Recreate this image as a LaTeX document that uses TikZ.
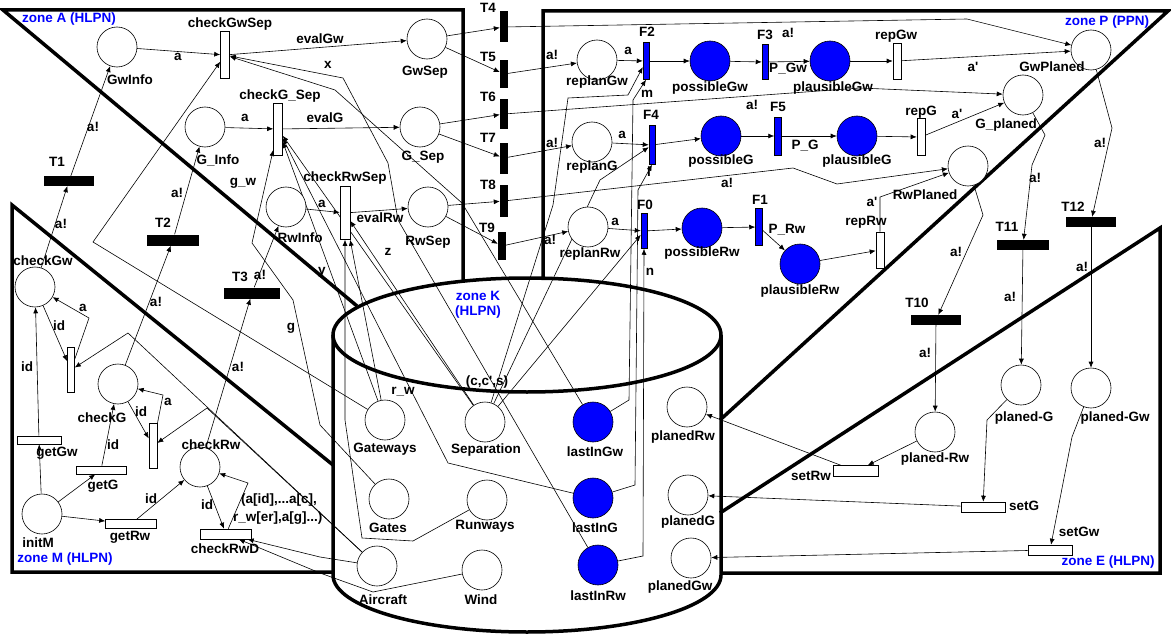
\documentclass[tikz,border=0pt]{standalone}
\usepackage{fontspec}
\setmainfont{Liberation Sans}
\usetikzlibrary{arrows.meta}
\pgfdeclarelayer{bg}
\pgfsetlayers{bg,main}
\newcommand{\lblfont}{\bfseries\fontsize{13.5}{14.5}\selectfont}
\begin{document}
\begin{tikzpicture}[x=1pt,y=-1pt,
  place/.style={circle,draw,line width=0.6pt,minimum size=40pt,inner sep=0pt,fill=white},
  bplace/.style={place,fill=blue},
  wtr/.style={rectangle,draw,line width=0.6pt,fill=white,inner sep=0pt},
  btr/.style={rectangle,fill=black,inner sep=0pt},
  ftr/.style={rectangle,fill=blue,draw=black,line width=0.5pt,inner sep=0pt},
  lbl/.style={font=\lblfont,inner sep=0pt},
  zone/.style={font=\lblfont,text=blue,inner sep=0pt,align=center},
  arc/.style={line width=0.6pt,-{Latex[length=6pt,width=5pt]}},
  frame/.style={line width=3.5pt}]
\useasboundingbox (0,0) rectangle (1171,634);

% ---------- zone A ----------
\node[place] (GwInfo) at (117,47) {};
\node[place] (GInfo) at (205,127) {};
\node[place] (RwInfo) at (286,207) {};
\node[place] (GwSep) at (427,39) {};
\node[place] (GSep) at (420,127) {};
\node[place] (RwSep) at (428,207) {};
\node[wtr,minimum width=9pt,minimum height=47pt] (checkGwSep) at (225,55) {};
\node[wtr,minimum width=9pt,minimum height=52pt] (checkGSep) at (278,129) {};
\node[wtr,minimum width=10pt,minimum height=53pt] (checkRwSep) at (345,213) {};
% ---------- T4..T9 ----------
\node[btr,minimum width=8pt,minimum height=31pt] (T4) at (504,27) {};
\node[btr,minimum width=8pt,minimum height=28pt] (T5) at (504,74) {};
\node[btr,minimum width=8pt,minimum height=29pt] (T6) at (504,114) {};
\node[btr,minimum width=8pt,minimum height=31pt] (T7) at (504,158) {};
\node[btr,minimum width=8pt,minimum height=32pt] (T8) at (504,201) {};
\node[btr,minimum width=8pt,minimum height=28pt] (T9) at (502,246) {};
% ---------- zone P ----------
\node[place] (replanGw) at (597,60) {};
\node[place] (replanG) at (592,142) {};
\node[place] (replanRw) at (588,227) {};
\node[ftr,minimum width=6pt,minimum height=37pt] (F2) at (646,61) {};
\node[ftr,minimum width=6pt,minimum height=39pt] (F4) at (652,145) {};
\node[ftr,minimum width=6pt,minimum height=35pt] (F0) at (644,231) {};
\node[bplace] (possibleGw) at (710,61) {};
\node[bplace] (possibleG) at (721,136) {};
\node[bplace] (possibleRw) at (702,228) {};
\node[ftr,minimum width=6pt,minimum height=35pt] (F3) at (765,62) {};
\node[ftr,minimum width=7pt,minimum height=38pt] (F5) at (778,136) {};
\node[ftr,minimum width=7pt,minimum height=37pt] (F1) at (759,227) {};
\node[bplace] (plausibleGw) at (830,61) {};
\node[bplace] (plausibleG) at (857,136) {};
\node[bplace] (plausibleRw) at (800,264) {};
\node[wtr,minimum width=8pt,minimum height=36pt] (repGw) at (897,61) {};
\node[wtr,minimum width=8pt,minimum height=37pt] (repG) at (921,137) {};
\node[wtr,minimum width=8pt,minimum height=36pt] (repRw) at (880,250) {};
\node[place] (GwPlaned) at (1091,50) {};
\node[place] (Gplaned) at (1023,95) {};
\node[place] (RwPlaned) at (968,166) {};
\node[btr,minimum width=50pt,minimum height=10pt] (T12) at (1091,222) {};
\node[btr,minimum width=52pt,minimum height=10pt] (T11) at (1023,245) {};
\node[btr,minimum width=50pt,minimum height=10pt] (T10) at (936,320) {};
% ---------- zone E ----------
\node[place] (pGw) at (1091,388) {};
\node[place] (pG) at (1021,385) {};
\node[place] (pRw) at (935,432) {};
\node[wtr,minimum width=45pt,minimum height=11pt] (setRw) at (856,471) {};
\node[wtr,minimum width=44pt,minimum height=10pt] (setG) at (983,507) {};
\node[wtr,minimum width=44pt,minimum height=10pt] (setGw) at (1050,550) {};
% ---------- zone K ----------
\node[place] (planedRw) at (687,407) {};
\node[place] (planedG) at (688,495) {};
\node[place] (planedGw) at (691,558) {};
\node[place] (Gateways) at (385,420) {};
\node[place] (Separation) at (485,422) {};
\node[bplace] (lastInGw) at (593,422) {};
\node[place] (Gates) at (389,499) {};
\node[place] (Runways) at (487,500) {};
\node[bplace] (lastInG) at (593,498) {};
\node[place] (Aircraft) at (377,566) {};
\node[place] (Wind) at (482,570) {};
\node[bplace] (lastInRw) at (598,565) {};
% ---------- zone M ----------
\node[place] (checkGw) at (35,287) {};
\node[place] (checkG) at (118,384) {};
\node[place] (checkRw) at (200,467) {};
\node[place] (initM) at (42,514) {};
\node[wtr,minimum width=44pt,minimum height=8pt] (getGw) at (39,440) {};
\node[wtr,minimum width=50pt,minimum height=8pt] (getG) at (101,470) {};
\node[wtr,minimum width=51pt,minimum height=9pt] (getRw) at (131,524) {};
\node[wtr,minimum width=51pt,minimum height=10pt] (checkRwD) at (226,534) {};
\node[wtr,minimum width=7pt,minimum height=45pt] (tGw) at (71,370) {};
\node[wtr,minimum width=8pt,minimum height=45pt] (tG) at (153,446) {};
\node[btr,minimum width=50pt,minimum height=10pt] (T1) at (69,181) {};
\node[btr,minimum width=52pt,minimum height=11pt] (T2) at (173,240) {};
\node[btr,minimum width=56pt,minimum height=11pt] (T3) at (252,293) {};

% ---------- zone names ----------
\node[zone] (zA) at (69,19) {zone A (HLPN)};
\node[zone] (zM) at (65,559) {zone M (HLPN)};
\node[zone] (zP) at (1107,22) {zone P (PPN)};
\node[zone] (zE) at (1108,562) {zone E (HLPN)};
\node[zone] (zK) at (478,305) {zone K\\(HLPN)};

% ---------- node names ----------
\node[lbl] (l1) at (130,80) {GwInfo};
\node[lbl] (l2) at (218,160) {G\_Info};
\node[lbl] (l3) at (300,238) {RwInfo};
\node[lbl] (l4) at (230,24) {checkGwSep};
\node[lbl] (l5) at (280,96) {checkG\_Sep};
\node[lbl] (l6) at (345,178) {checkRwSep};
\node[lbl] (l7) at (425,72) {GwSep};
\node[lbl] (l8) at (423,157) {G\_Sep};
\node[lbl] (l9) at (428,242) {RwSep};
\node[lbl] (l10) at (488,8) {T4};
\node[lbl] (l11) at (488,57) {T5};
\node[lbl] (l12) at (488,97) {T6};
\node[lbl] (l13) at (488,138) {T7};
\node[lbl] (l14) at (488,185) {T8};
\node[lbl] (l15) at (487,228) {T9};
\node[lbl] (l16) at (647,32) {F2};
\node[lbl] (l17) at (651,115) {F4};
\node[lbl] (l18) at (645,205) {F0};
\node[lbl] (l19) at (765,35) {F3};
\node[lbl] (l20) at (778,107) {F5};
\node[lbl] (l21) at (760,200) {F1};
\node[lbl] (l22) at (597,82) {replanGw};
\node[lbl] (l23) at (592,167) {replanG};
\node[lbl] (l24) at (590,254) {replanRw};
\node[lbl] (l25) at (710,88) {possibleGw};
\node[lbl] (l26) at (721,161) {possibleG};
\node[lbl] (l27) at (702,253) {possibleRw};
\node[lbl] (l28) at (833,88) {plausibleGw};
\node[lbl] (l29) at (857,161) {plausibleG};
\node[lbl] (l30) at (800,291) {plausibleRw};
\node[lbl] (l31) at (896,36) {repGw};
\node[lbl] (l32) at (921,112) {repG};
\node[lbl] (l33) at (866,222) {repRw};
\node[lbl] (l34) at (1052,67) {GwPlaned};
\node[lbl] (l35) at (1006,125) {G\_planed};
\node[lbl] (l36) at (925,195) {RwPlaned};
\node[lbl] (l37) at (1073,207) {T12};
\node[lbl] (l38) at (1007,227) {T11};
\node[lbl] (l39) at (917,303) {T10};
\node[lbl] (l40) at (1115,418) {planed-Gw};
\node[lbl] (l41) at (1024,418) {planed-G};
\node[lbl] (l42) at (935,459) {planed-Rw};
\node[lbl] (l43) at (811,476) {setRw};
\node[lbl] (l44) at (1024,506) {setG};
\node[lbl] (l45) at (1079,532) {setGw};
\node[lbl] (l46) at (683,437) {planedRw};
\node[lbl] (l47) at (688,522) {planedG};
\node[lbl] (l48) at (680,587) {planedGw};
\node[lbl] (l49) at (385,449) {Gateways};
\node[lbl] (l50) at (486,450) {Separation};
\node[lbl] (l51) at (595,452) {lastInGw};
\node[lbl] (l52) at (388,528) {Gates};
\node[lbl] (l53) at (485,526) {Runways};
\node[lbl] (l54) at (595,528) {lastInG};
\node[lbl] (l55) at (383,600) {Aircraft};
\node[lbl] (l56) at (481,600) {Wind};
\node[lbl] (l57) at (598,596) {lastInRw};
\node[lbl] (l58) at (43,261) {checkGw};
\node[lbl] (l59) at (102,418) {checkG};
\node[lbl] (l60) at (211,445) {checkRw};
\node[lbl] (l61) at (38,543) {initM};
\node[lbl] (l62) at (57,453) {getGw};
\node[lbl] (l63) at (103,486) {getG};
\node[lbl] (l64) at (130,537) {getRw};
\node[lbl] (l65) at (225,549) {checkRwD};
\node[lbl] (l66) at (57,162) {T1};
\node[lbl] (l67) at (163,223) {T2};
\node[lbl] (l68) at (240,277) {T3};

% ---------- arc inscriptions ----------
\node[lbl] (i1) at (178,57) {a};
\node[lbl] (i2) at (245,118) {a};
\node[lbl] (i3) at (322,204) {a};
\node[lbl] (i4) at (320,39) {evalGw};
\node[lbl] (i5) at (325,118) {evalG};
\node[lbl] (i6) at (380,218) {evalRw};
\node[lbl] (i7) at (328,65) {x};
\node[lbl] (i8) at (243,183) {g\_w};
\node[lbl] (i9) at (291,328) {g};
\node[lbl] (i10) at (388,252) {z};
\node[lbl] (i11) at (322,272) {y};
\node[lbl] (i12) at (403,392) {r\_w};
\node[lbl] (i13) at (487,382) {(c,c\textquotesingle,s)};
\node[lbl] (i14) at (552,55) {a!};
\node[lbl] (i15) at (552,143) {a!};
\node[lbl] (i16) at (550,240) {a!};
\node[lbl] (i17) at (628,51) {a};
\node[lbl] (i18) at (622,135) {a};
\node[lbl] (i19) at (615,222) {a};
\node[lbl] (i20) at (647,94) {m};
\node[lbl] (i21) at (649,172) {l};
\node[lbl] (i22) at (650,272) {n};
\node[lbl] (i23) at (788,69) {P\_Gw};
\node[lbl] (i24) at (805,146) {P\_G};
\node[lbl] (i25) at (787,230) {P\_Rw};
\node[lbl] (i26) at (788,33) {a!};
\node[lbl] (i27) at (752,105) {a!};
\node[lbl] (i28) at (727,183) {a!};
\node[lbl] (i29) at (973,67) {a\textquotesingle};
\node[lbl] (i30) at (957,114) {a\textquotesingle};
\node[lbl] (i31) at (872,202) {a\textquotesingle};
\node[lbl] (i32) at (1100,143) {a!};
\node[lbl] (i33) at (1035,178) {a!};
\node[lbl] (i34) at (956,252) {a!};
\node[lbl] (i35) at (1082,267) {a!};
\node[lbl] (i36) at (1010,297) {a!};
\node[lbl] (i37) at (925,353) {a!};
\node[lbl] (i38) at (61,224) {a!};
\node[lbl] (i39) at (93,127) {a!};
\node[lbl] (i40) at (177,193) {a!};
\node[lbl] (i41) at (156,302) {a!};
\node[lbl] (i42) at (260,275) {a!};
\node[lbl] (i43) at (238,367) {a!};
\node[lbl] (i44) at (83,308) {a};
\node[lbl] (i45) at (59,326) {id};
\node[lbl] (i46) at (27,367) {id};
\node[lbl] (i47) at (168,402) {a};
\node[lbl] (i48) at (141,412) {id};
\node[lbl] (i49) at (113,445) {id};
\node[lbl] (i50) at (151,499) {id};
\node[lbl] (i51) at (207,505) {id};
\node[lbl,anchor=west] (i52) at (241,500) {(a[id],...a[c],};
\node[lbl,anchor=west] (i53) at (233,518) {r\_w[er],a[g]...)};

\begin{pgfonlayer}{bg}
% frames and cylinder
\draw[frame] (463,280) -- (463,10) -- (3,10) -- (357,306);
\draw[frame] (333,465) -- (12,205) -- (12,572) -- (333,572);
\draw[frame] (543,280) -- (543,11) -- (1168,11) -- (720,420);
\draw[frame] (720,513) -- (1160,228) -- (1160,573) -- (720,573);
\draw[frame] (527,335) ellipse [x radius=194pt, y radius=57pt];
\draw[frame] (333,335) -- (333,575) arc[start angle=180,end angle=360,x radius=194pt,y radius=57pt] -- (721,335);

% zone A
\draw[arc] (GwInfo) -- (checkGwSep);
\draw[arc] (GInfo) -- (checkGSep);
\draw[arc] (RwInfo) -- (checkRwSep);
\draw[arc] (checkGwSep) -- (GwSep);
\draw[arc] (checkGSep) -- (GSep);
\draw[arc] (checkRwSep) -- (RwSep);
\draw[arc] (GwSep) -- (T4);
\draw[arc] (GwSep) -- (T5);
\draw[arc] (GSep) -- (T6);
\draw[arc] (GSep) -- (T7);
\draw[arc] (RwSep) -- (T8);
\draw[arc] (RwSep) -- (T9);
% zone P
\draw[arc] (T5) -- (replanGw);
\draw[arc] (T7) -- (replanG);
\draw[arc] (T9) -- (replanRw);
\draw[arc] (T4) -- (967,19) -- (GwPlaned);
\draw[arc] (T6) -- (860,88) -- (Gplaned);
\draw[arc] (T8) -- (793,168) -- (837,184) -- (RwPlaned);
\draw[arc] (replanGw) -- (F2);
\draw[arc] (replanG) -- (F4);
\draw[arc] (replanRw) -- (F0);
\draw[arc] (F2) -- (possibleGw);
\draw[arc] (F4) -- (possibleG);
\draw[arc] (F0) -- (possibleRw);
\draw[arc] (possibleGw) -- (F3);
\draw[arc] (F3) -- (plausibleGw);
\draw[arc] (possibleG) -- (F5);
\draw[arc] (F5) -- (plausibleG);
\draw[arc] (possibleRw) -- (F1);
\draw[arc] (F1) -- (plausibleRw);
\draw[arc] (plausibleGw) -- (repGw);
\draw[arc] (repGw) -- (GwPlaned);
\draw[arc] (plausibleG) -- (repG);
\draw[arc] (repG) -- (Gplaned);
\draw[arc] (plausibleRw) -- (repRw);
\draw[arc] (repRw.north) -- (880,197) -- (RwPlaned);
\draw[arc] (GwPlaned) -- (1112,128) -- (T12);
\draw[arc] (Gplaned) -- (1045,135) -- (1032,165) -- (T11);
\draw[arc] (RwPlaned) -- (983,215) -- (T10);
\draw[arc] (T12) -- (pGw);
\draw[arc] (T11) -- (pG);
\draw[arc] (T10) -- (pRw);
% zone E
\draw[arc] (pRw) -- (setRw);
\draw[arc] (pG) -- (987,420) -- (setG);
\draw[arc] (pGw) -- (1072,437) -- (setGw);
\draw[arc] (setRw) -- (planedRw);
\draw[arc] (setG) -- (planedG);
\draw[arc] (setGw) -- (planedGw);
% zone M
\draw[arc] (initM) -- (getGw);
\draw[arc] (getGw) -- (checkGw);
\draw[arc] (initM) -- (getG);
\draw[arc] (getG) -- (checkG);
\draw[arc] (initM) -- (getRw);
\draw[arc] (getRw) -- (checkRw);
\draw[arc] (checkGw) -- (tGw);
\draw[arc] (tGw) -- (89,318) -- (checkGw);
\draw[arc] (checkG) -- (tG);
\draw[arc] (tG) -- (163,395) -- (checkG);
\draw[arc] (checkRw) -- (checkRwD);
\draw[arc] (checkRwD) -- (248,483) -- (checkRw);
\draw[arc] (checkGw) -- (T1);
\draw[arc] (T1) -- (GwInfo);
\draw[arc] (checkG) -- (T2);
\draw[arc] (T2) -- (GInfo);
\draw[arc] (checkRw) -- (T3);
\draw[arc] (T3) -- (RwInfo);
% from zone K
\draw[arc] (Gateways) -- (93,242) -- (checkGwSep);
\draw[arc] (lastInRw) -- (398,220) -- (388,163) -- (343,78) -- (checkGwSep);
\draw[arc] (lastInGw) -- (462,203) -- (335,90) -- (checkGwSep);
\draw[arc] (Gateways) -- (checkGSep);
\draw[arc] (Separation) -- (checkGSep);
\draw[arc] (Gates) -- (320,425) -- (293,300) -- (252,243) -- (checkGSep);
\draw[arc] (lastInG) -- (448,463) -- (checkGSep);
\draw[arc] (Separation) -- (checkRwSep);
\draw[arc] (Gateways) -- (checkRwSep);
\draw[arc] (Runways) -- (413,541) -- (362,538) -- (345,420) -- (checkRwSep);
\draw[arc] (Aircraft) -- (128,333) -- (tGw);
\draw[arc] (Aircraft) -- (207,408) -- (tG);
\draw[arc] (Aircraft) -- (320,557) -- (checkRwD);
\draw[arc] (Wind) -- (373,592) -- (320,573) -- (checkRwD);
\draw[arc] (Separation) -- (553,205) -- (568,98) -- (628,95) -- (F2);
\draw[arc] (Separation) -- (600,180) -- (F4);
\draw[arc] (Separation) -- (F0);
\draw[arc] (lastInGw) -- (629,400) -- (633,100) -- (F2.south);
\draw[arc] (lastInG) -- (635,485) -- (638,190) -- (F4.south);
\draw[arc] (lastInRw) -- (643,556) -- (F0.south);
\end{pgfonlayer}
\end{tikzpicture}
\end{document}
